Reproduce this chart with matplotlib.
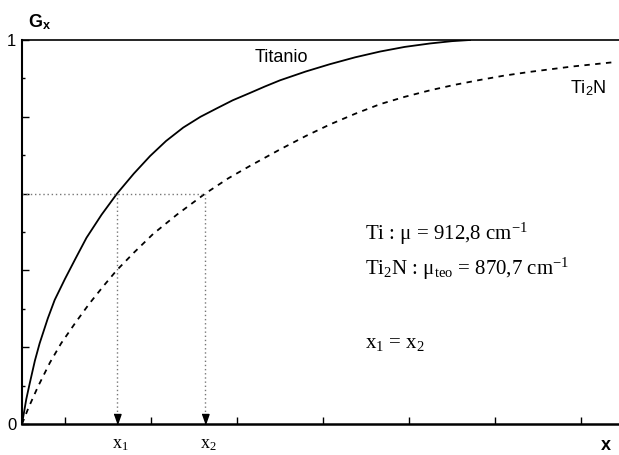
import matplotlib
matplotlib.use("Agg")
import matplotlib.pyplot as plt
from matplotlib.transforms import offset_copy

plt.rcParams["font.family"] = ["Liberation Sans", "DejaVu Sans"]
plt.rcParams["mathtext.fontset"] = "custom"
plt.rcParams["mathtext.rm"] = "Liberation Serif"
plt.rcParams["mathtext.it"] = "Liberation Serif"
plt.rcParams["mathtext.sf"] = "Liberation Sans"
plt.rcParams["mathtext.bf"] = "Liberation Sans:bold"

# curves (x in tick half-steps)
ti_x = [0, 0.1, 0.18, 0.3, 0.41, 0.6, 0.76, 1.0, 1.25, 1.5, 1.85, 2.21, 2.6, 2.98, 3.35,
        3.75, 4.15, 4.53, 4.9, 5.3, 5.65, 6.0, 6.6, 7.16, 7.75, 8.33, 8.9, 9.49, 10.0, 10.42]
ti_g = [0, 0.065, 0.106, 0.165, 0.21, 0.275, 0.323, 0.378, 0.432, 0.485, 0.545, 0.60, 0.652, 0.698, 0.737,
        0.772, 0.800, 0.822, 0.843, 0.862, 0.879, 0.895, 0.918, 0.937, 0.955, 0.970, 0.982, 0.991, 0.997, 1.0]
ti2n_x = [0, 0.15, 0.37, 0.65, 0.91, 1.25, 1.57, 1.9, 2.2, 2.6, 3.05, 3.6, 4.26, 4.8, 5.3, 6.0,
          6.6, 7.16, 7.75, 8.33, 8.9, 9.49, 10.05, 10.65, 11.2, 11.81, 12.8, 13.83]
ti2n_g = [0, 0.042, 0.097, 0.16, 0.21, 0.265, 0.314, 0.36, 0.40, 0.446, 0.495, 0.545, 0.60, 0.640, 0.672, 0.715,
          0.750, 0.780, 0.808, 0.833, 0.852, 0.869, 0.883, 0.896, 0.907, 0.917, 0.931, 0.943]

g_level = 0.6
x1 = 2.21
x2 = 4.26
x_ticks = [1, 3, 5, 7, 9, 11, 13]
y_ticks = [0, 0.2, 0.4, 0.6, 0.8, 1.0]
y_labels = ["0", "", "", "", "", "1"]

fig = plt.figure(figsize=(6.19, 4.55), dpi=100)
ax = fig.add_axes([22 / 619, 31 / 455, 597 / 619, 384 / 455])

ax.plot(ti_x, ti_g, color="black", lw=1.3)
ax.plot(ti2n_x, ti2n_g, color="black", lw=1.3, ls=(0, (3, 3)))

dot = dict(color="#777777", lw=1.0, ls=(0, (1, 2)))
ax.plot([0, x2], [g_level, g_level], **dot)
ax.plot([x1, x1], [0, g_level], **dot)
ax.plot([x2, x2], [0, g_level], **dot)

tri = [(-0.35, 0.5), (0.35, 0.5), (0, -0.5)]
tr = offset_copy(ax.transData, fig=fig, y=3.6, units="points")
ax.plot([x1, x2], [0, 0], ls="none", marker=tri, ms=7.2, color="black", transform=tr, clip_on=False)

ax.set_xlim(0, 597 / 43)
ax.set_ylim(0, 1)
ax.set_xticks(x_ticks)
ax.set_xticklabels([])
ax.set_yticks(y_ticks)
ax.set_yticklabels(y_labels, fontsize=12)
ax.set_yticks([0.1, 0.3, 0.5, 0.7, 0.9], minor=True)
ax.tick_params(axis="both", which="major", direction="in", length=5, width=1, pad=4)
ax.tick_params(axis="y", which="minor", direction="in", length=2.5, width=1)

ax.spines["right"].set_visible(False)
ax.spines["bottom"].set_linewidth(1.8)
ax.spines["left"].set_linewidth(1.5)
ax.spines["top"].set_linewidth(1.2)

ax.annotate(r"G$_\mathbf{x}$", xy=(0, 1), xycoords="axes fraction", xytext=(4, 9),
            textcoords="offset points", fontsize=13, fontweight="bold", va="baseline")
ax.annotate("x", xy=(1, 0), xycoords="axes fraction", xytext=(-6, -18.5),
            textcoords="offset points", fontsize=13, fontweight="bold", ha="right", va="baseline")

ax.text(0.39, 0.943, "Titanio", transform=ax.transAxes, fontsize=13, va="baseline")
ax.text(0.918, 0.862, r"Ti$_\mathsf{2}$N", transform=ax.transAxes, fontsize=13, va="baseline")

serif = "Liberation Serif"
ax.annotate(r"x$_1$", xy=(x1, 0), xytext=(-3.6, -17.3), textcoords="offset points",
            fontsize=13, family=serif, va="baseline")
ax.annotate(r"x$_2$", xy=(x2, 0), xytext=(-3.6, -17.3), textcoords="offset points",
            fontsize=13, family=serif, va="baseline")

ax.text(0.5745, 0.479, r"Ti : $\mu$ = 912,8 cm$^{-1}$", transform=ax.transAxes,
        fontsize=15, family=serif, va="baseline")
ax.text(0.5745, 0.388, r"Ti$_2$N : $\mu_{\mathrm{teo}}$ = 870,7 cm$^{-1}$", transform=ax.transAxes,
        fontsize=15, family=serif, va="baseline")
ax.text(0.5745, 0.198, r"x$_1$ = x$_2$", transform=ax.transAxes,
        fontsize=15, family=serif, va="baseline")

fig.savefig("out.png", dpi=100)
